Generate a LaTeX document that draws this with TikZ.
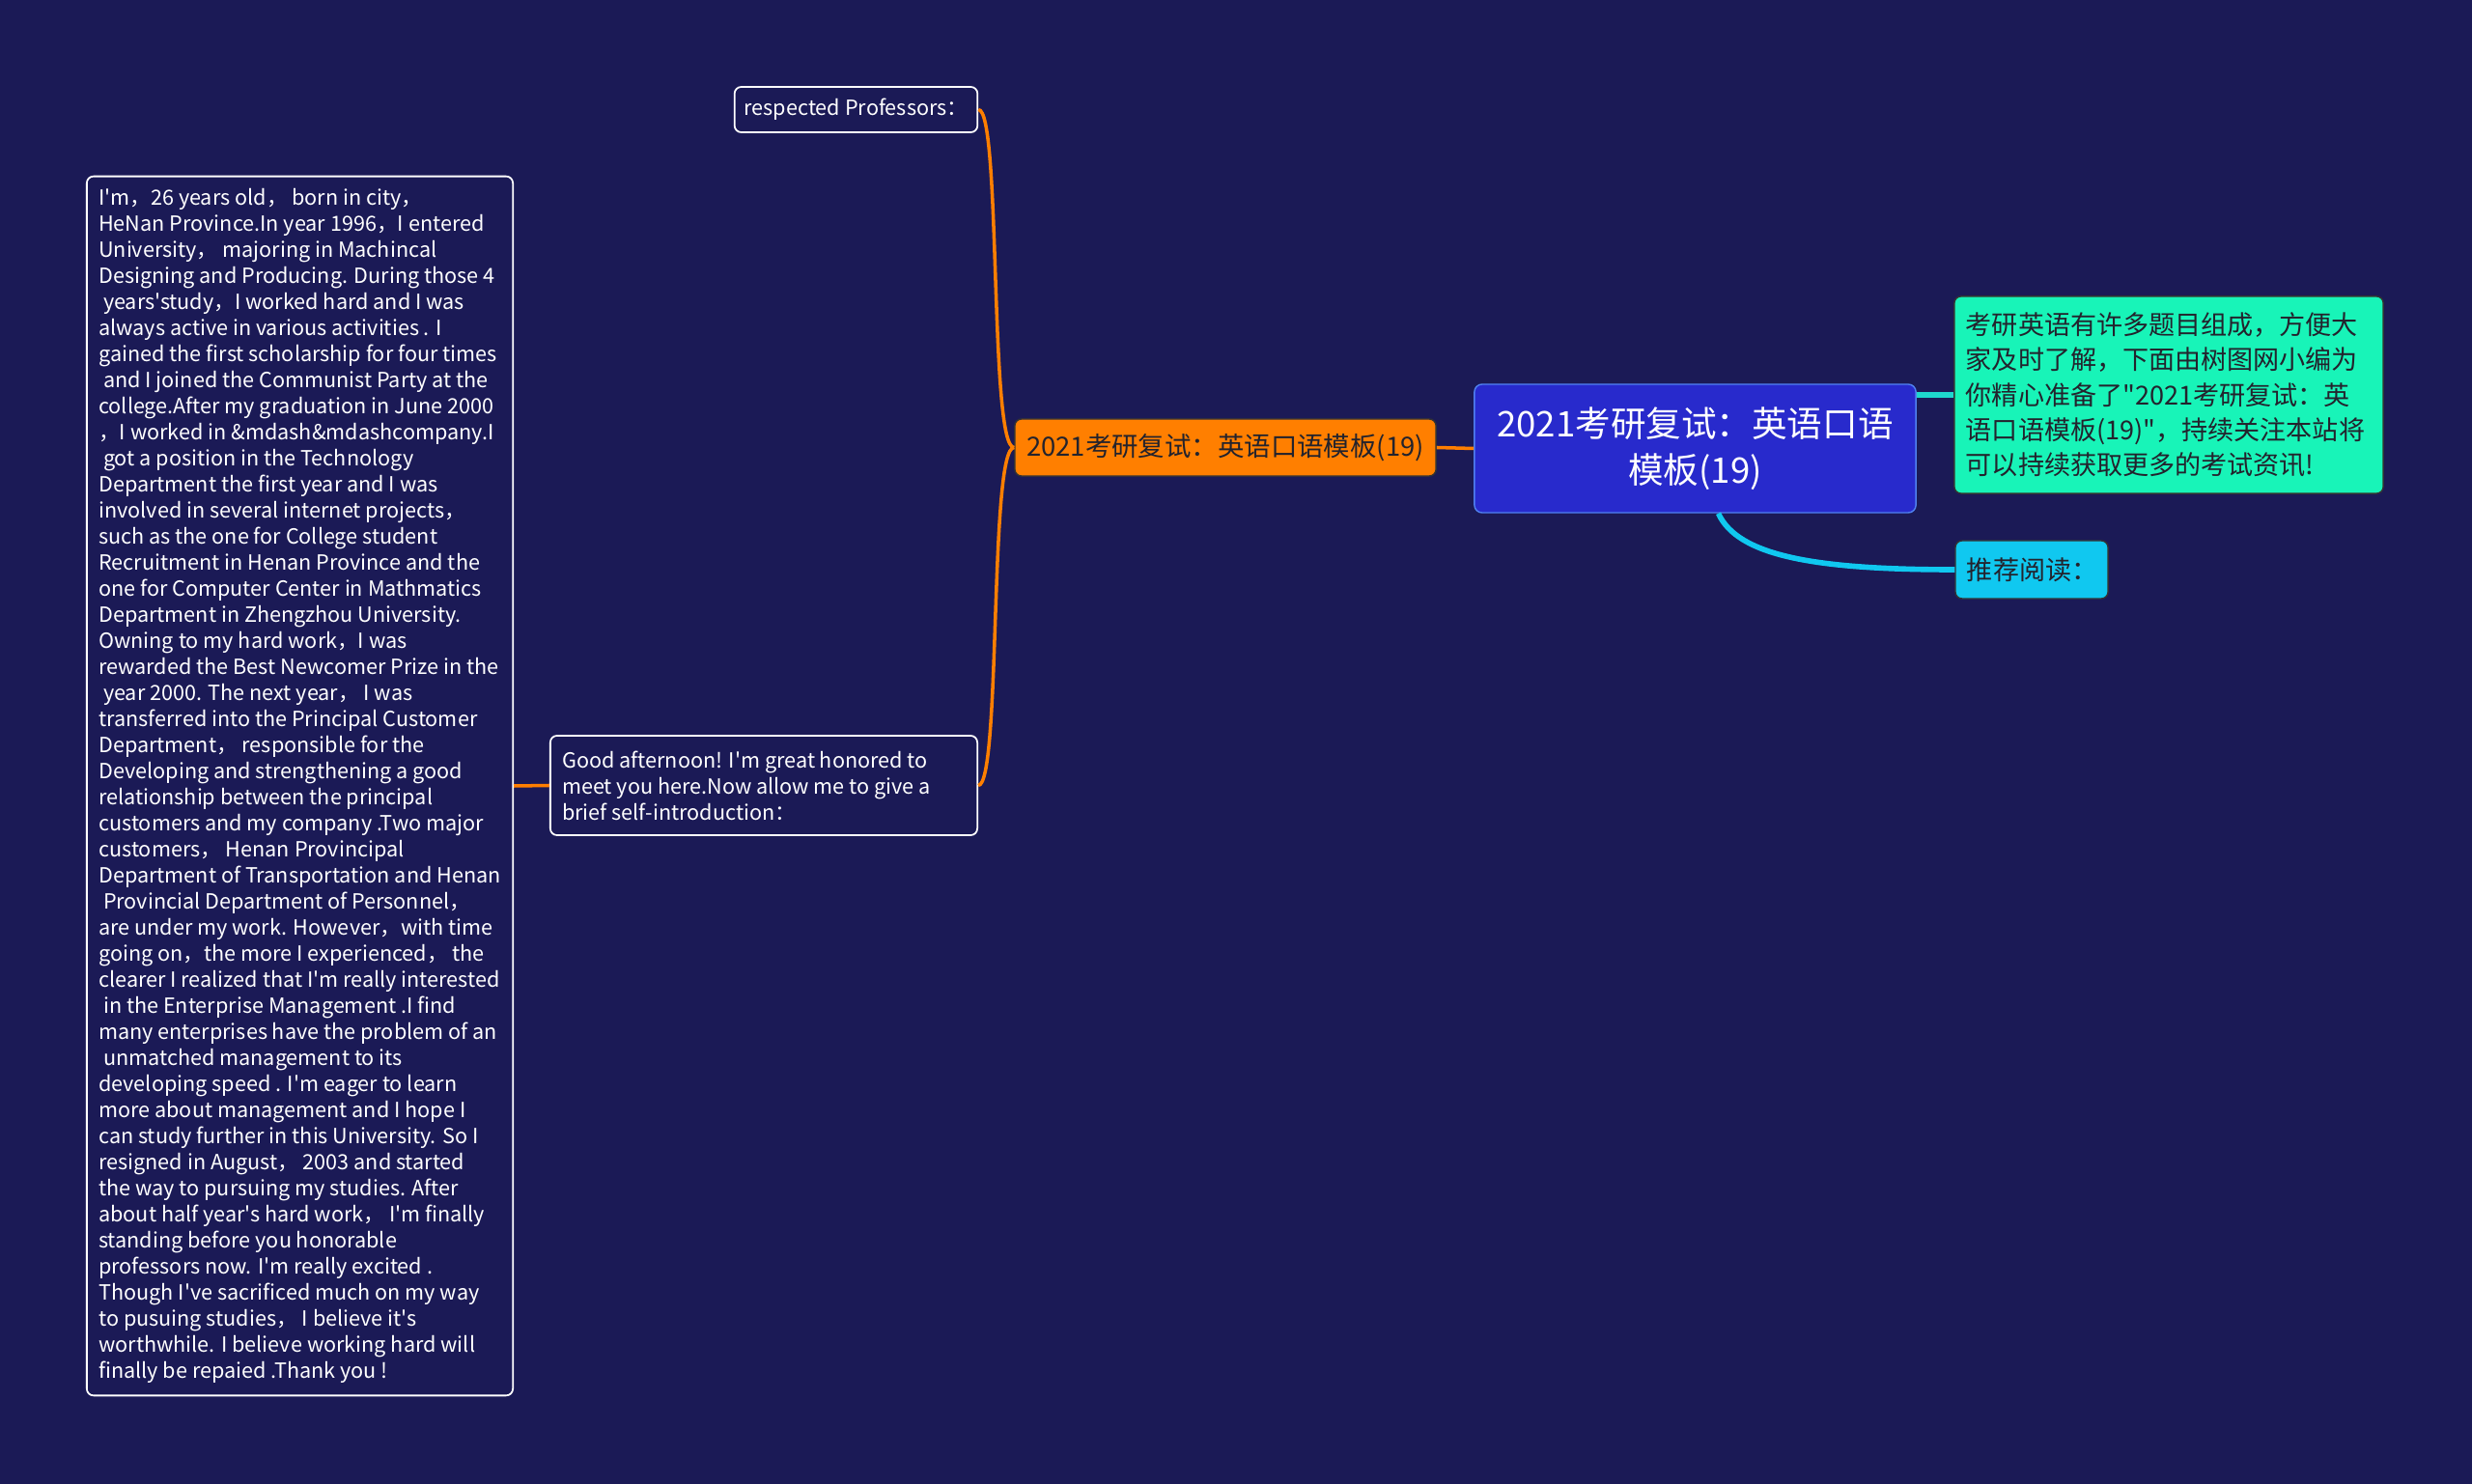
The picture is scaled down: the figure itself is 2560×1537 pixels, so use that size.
\documentclass[tikz,border=0pt]{standalone}
\usepackage{fontspec}
\setmainfont{Noto Sans CJK SC}[Ligatures=TeXOff]
\usetikzlibrary{positioning}

\definecolor{bgnavy}{RGB}{27,26,86}
\definecolor{rootblue}{RGB}{40,42,204}
\definecolor{rootedge}{RGB}{80,130,240}
\definecolor{topicorange}{RGB}{255,127,0}
\definecolor{leafgreen}{RGB}{24,244,184}
\definecolor{leafcyan}{RGB}{16,200,240}
\definecolor{linkteal}{RGB}{30,215,205}
\definecolor{darktext}{RGB}{35,35,45}

\tikzset{
  textbox/.style={draw=white, line width=0.5pt, rounded corners=0.07cm, fill=bgnavy,
    text=white, align=left, inner xsep=0.1cm, inner ysep=0.06cm,
    font=\fontsize{6.15}{7.68}\selectfont},
  colorbox/.style={draw=black!80, line width=0.4pt, rounded corners=0.07cm,
    text=darktext, inner xsep=0.12cm},
  orangeline/.style={draw=topicorange, line width=1pt},
  cyanline/.style={line width=1.6pt}
}

\begin{document}
\begin{tikzpicture}[x=0.01cm, y=-0.01cm]
  \fill[bgnavy] (0,0) rectangle (2560,1537);
  \useasboundingbox (0,0) rectangle (2560,1537);

  % root and its two sides
  \node[draw=rootedge, fill=rootblue, rounded corners=0.08cm, text=white, align=center,
    minimum width=4.57cm, minimum height=1.33cm,
    font=\fontsize{10.4}{13.6}\selectfont] (root) at (1755.5,464.5)
    {2021考研复试：英语口语\\模板(19)};
  \node[colorbox, fill=topicorange, minimum width=4.36cm, minimum height=0.59cm,
    font=\fontsize{7.8}{9.4}\selectfont] (topic) at (1269,463.5)
    {2021考研复试：英语口语模板(19)};
  \node[colorbox, fill=leafgreen, align=left, text width=4.2cm, minimum height=2.04cm,
    font=\fontsize{7.7}{10.3}\selectfont] (note) at (2246,409)
    {考研英语有许多题目组成，方便大\\家及时了解，下面由树图网小编为\\你精心准备了"2021考研复试：英\\语口语模板(19)"，持续关注本站将\\可以持续获取更多的考试资讯!};
  \node[colorbox, fill=leafcyan, align=left, text width=1.34cm, minimum height=0.6cm,
    font=\fontsize{7.7}{9.4}\selectfont] (reading) at (2104,590) {推荐阅读：};

  % left branch
  \node[textbox, minimum width=2.51cm, minimum height=0.47cm] (greeting) at (886.5,113.5)
    {respected Professors：};
  \node[textbox, minimum width=4.42cm, minimum height=1.03cm] (opening) at (791,813.5)
    {Good afternoon! I'm great honored to\rule{0.39cm}{0pt}\\meet you here.Now allow me to give a\\brief self-introduction：};
  \node[textbox, minimum width=4.41cm, minimum height=12.62cm] (story) at (310.5,814)
    {I'm，26 years old，\ born in city，\\
     HeNan Province.In year 1996，I entered\\
     University，\ majoring in Machincal\\
     Designing and Producing. During those 4\\
     \ years'study，I worked hard and I was\\
     always active in various activities . I\\
     gained the first scholarship for four times\\
     \ and I joined the Communist Party at the\\
     college.After my graduation in June 2000\\
     ，I worked in \&mdash\&mdashcompany.I\\
     \ got a position in the Technology\\
     Department the first year and I was\\
     involved in several internet projects，\\
     such as the one for College student\\
     Recruitment in Henan Province and the\\
     one for Computer Center in Mathmatics\\
     Department in Zhengzhou University.\\
     Owning to my hard work，I was\\
     rewarded the Best Newcomer Prize in the\\
     \ year 2000. The next year，\ I was\\
     transferred into the Principal Customer\\
     Department，\ responsible for the\\
     Developing and strengthening a good\\
     relationship between the principal\\
     customers and my company .Two major\\
     customers，\ Henan Provincipal\\
     Department of Transportation and Henan\\
     \ Provincial Department of Personnel，\\
     are under my work. However，with time\\
     going on，the more I experienced，\ the\\
     clearer I realized that I'm really interested\\
     \ in the Enterprise Management .I find\\
     many enterprises have the problem of an\\
     \ unmatched management to its\\
     developing speed . I'm eager to learn\\
     more about management and I hope I\\
     can study further in this University. So I\\
     resigned in August，\ 2003 and started\\
     the way to pursuing my studies. After\\
     about half year's hard work，\ I'm finally\\
     standing before you honorable\\
     professors now. I'm really excited .\\
     Though I've sacrificed much on my way\\
     to pusuing studies，\ I believe it's\\
     worthwhile. I believe working hard will\\
     finally be repaied .Thank you !};

  % connectors
  \draw[orangeline] (root.west) -- (topic.east);
  \draw[orangeline] (topic.west) .. controls +(-26,0) and +(24,0) .. (greeting.east);
  \draw[orangeline] (topic.west) .. controls +(-26,0) and +(24,0) .. (opening.east);
  \draw[orangeline] (opening.west) -- (story.east);
  \draw[cyanline, linkteal] (root.east |- note.west) -- (note.west);
  \draw[cyanline, leafcyan] ([xshift=0.24cm]root.south) .. controls +(20,44) and +(-145,0) .. (reading.west);
\end{tikzpicture}
\end{document}
